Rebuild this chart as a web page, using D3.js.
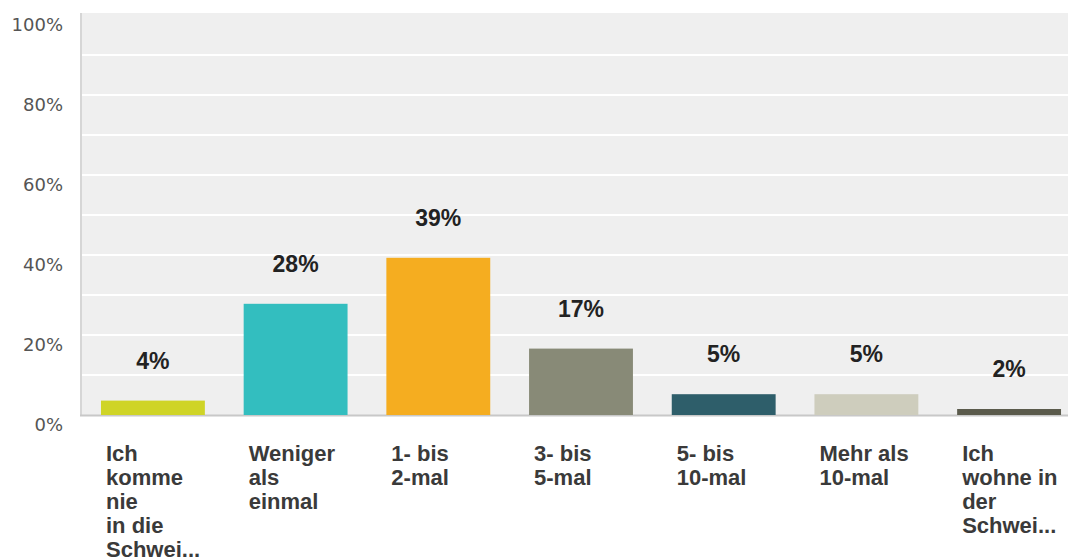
<!DOCTYPE html>
<meta charset="utf-8">
<style>
body { margin: 0; background: #fff; }
.tick-label { font-family: "DejaVu Sans", sans-serif; font-size: 18px; fill: #555; }
.cat-label { font-family: "Liberation Sans", Arial, sans-serif; font-size: 22px; font-weight: bold; fill: #3a3a3a; }
.val-label { font-family: "Liberation Sans", Arial, sans-serif; font-size: 23px; font-weight: bold; fill: #222; }
</style>
<svg width="1068" height="557"></svg>
<script src="https://d3js.org/d3.v7.min.js"></script>
<script>
// answer categories (already wrapped the way the survey tool shows them)
var categories = [
  ["Ich", "komme", "nie", "in die", "Schwei..."],
  ["Weniger", "als", "einmal"],
  ["1- bis", "2-mal"],
  ["3- bis", "5-mal"],
  ["5- bis", "10-mal"],
  ["Mehr als", "10-mal"],
  ["Ich", "wohne in", "der", "Schwei..."]
];
// share of answers in percent
var values = [3.6, 27.8, 39.3, 16.6, 5.2, 5.2, 1.5];
var colors = ["#cfd427", "#33bebf", "#f5ad20", "#888a77", "#2e5e6a", "#cecdbd", "#5b5b4c"];
var yTicks = [0, 20, 40, 60, 80, 100];

var svg = d3.select("svg"),
    plotLeft = 81, plotRight = 1081, plotTop = 15, plotBottom = 415;

var x = d3.scaleBand()
    .domain(d3.range(values.length))
    .range([plotLeft, plotRight])
    .paddingInner(0.272)
    .paddingOuter(0.14);

var y = d3.scaleLinear().domain([0, 100]).range([plotBottom, plotTop]);

// plot background
svg.append("rect")
    .attr("x", plotLeft).attr("y", plotTop - 2)
    .attr("width", 1068 - plotLeft).attr("height", plotBottom - plotTop + 2)
    .attr("fill", "#efefef");

// white grid lines every 10%
svg.append("g").selectAll("line")
  .data(d3.range(10, 100, 10))
  .enter().append("line")
    .attr("x1", plotLeft).attr("x2", 1068)
    .attr("y1", function(d) { return y(d); })
    .attr("y2", function(d) { return y(d); })
    .attr("stroke", "#fff")
    .attr("stroke-width", 2);

// left and bottom borders
svg.append("line")
    .attr("x1", plotLeft).attr("x2", plotLeft)
    .attr("y1", plotTop - 2).attr("y2", plotBottom + 1)
    .attr("stroke", "#d6d6d6").attr("stroke-width", 2);
svg.append("line")
    .attr("x1", plotLeft - 1).attr("x2", 1068)
    .attr("y1", plotBottom + 0.5).attr("y2", plotBottom + 0.5)
    .attr("stroke", "#c8c8c8").attr("stroke-width", 2);

// y tick labels (sit a little below their grid line, like the original)
svg.append("g").selectAll("text")
  .data(yTicks)
  .enter().append("text")
    .attr("class", "tick-label")
    .attr("x", 63)
    .attr("y", function(d) { return y(d) + 16; })
    .attr("text-anchor", "end")
    .text(function(d) { return d + "%"; });

// bars
svg.append("g").selectAll("rect")
  .data(values)
  .enter().append("rect")
    .attr("x", function(d, i) { return x(i); })
    .attr("y", function(d) { return y(d); })
    .attr("width", x.bandwidth())
    .attr("height", function(d) { return plotBottom - y(d); })
    .attr("fill", function(d, i) { return colors[i]; });

// value labels
svg.append("g").selectAll("text")
  .data(values)
  .enter().append("text")
    .attr("class", "val-label")
    .attr("x", function(d, i) { return x(i) + x.bandwidth() / 2; })
    .attr("y", function(d) { return y(d) - 32; })
    .attr("text-anchor", "middle")
    .text(function(d) { return Math.round(d) + "%"; });

// category labels
var cat = svg.append("g").selectAll("text")
  .data(categories)
  .enter().append("text")
    .attr("class", "cat-label")
    .attr("x", function(d, i) { return x(i) + 5; })
    .attr("y", 461);

cat.selectAll("tspan")
  .data(function(d) { return d; })
  .enter().append("tspan")
    .attr("x", function() { return this.parentNode.getAttribute("x"); })
    .attr("dy", function(d, i) { return i ? 24 : 0; })
    .text(function(d) { return d; });
</script>
